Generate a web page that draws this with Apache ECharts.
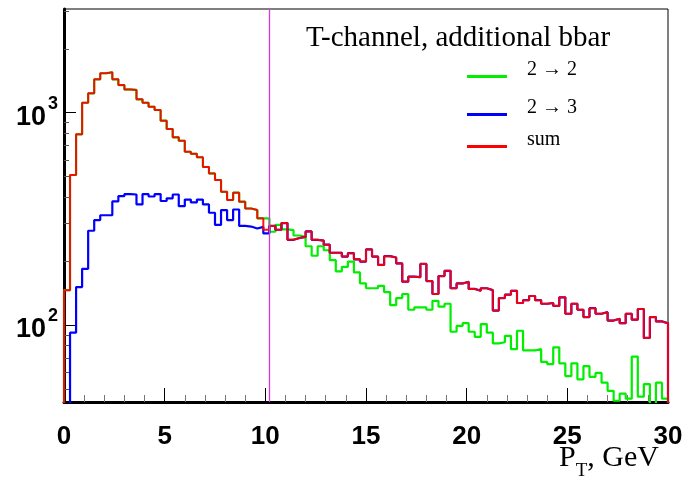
<!DOCTYPE html>
<html>
<head>
<meta charset="utf-8">
<script src="https://cdn.jsdelivr.net/npm/echarts@6/dist/echarts.min.js"></script>
<style>
  html, body { margin: 0; padding: 0; background: #fff; }
  #main { width: 686px; height: 487px; }
</style>
</head>
<body>
<div id="main"></div>
<script>
// pT spectrum, 100 bins of 0.3 GeV between 0 and 30
var ptMin = 0, ptMax = 30;
var cutPt = 10.2; // matching cut, drawn as the vertical line

// sum, every bin
var sumVals = [
  146, 509, 791, 1114, 1234, 1436, 1534, 1550, 1436, 1350,
  1288, 1280, 1157, 1114, 1067, 1030, 917, 838, 766, 738,
  655, 640, 617, 555, 518, 482, 424, 388, 420, 381,
  354, 348, 318, 281, 293, 281, 302, 252, 257, 260,
  276, 252, 250, 239, 219, 219, 210, 218, 204, 199,
  227, 210, 192, 211, 208, 195, 160, 169, 168, 194,
  161, 140, 170, 180, 149, 157, 160, 148, 145, 149,
  146, 117, 134, 139, 145, 127, 131, 137, 131, 126,
  127, 123, 135, 113, 126, 118, 109, 120, 113, 115,
  105, 107, 102, 113, 106, 119, 87, 109, 104, 102
];
// 2 -> 3, bins 0..33 (after the cut it lies under the sum)
var v23Low = [
  30, 92, 151, 184, 278, 312, 329, 329, 382, 405,
  414, 412, 370, 414, 403, 414, 384, 395, 412, 363,
  390, 378, 390, 370, 338, 296, 348, 312, 350, 293,
  291, 285, 290, 270
];
// 2 -> 2, bins 33..99 (before the cut it lies under the sum)
var v22High = [
  318, 275, 296, 282, 280, 264, 260, 235, 212, 235,
  225, 202, 179, 188, 199, 177, 157, 149, 149, 153,
  143, 124, 134, 140, 118, 121, 121, 118, 130, 122,
  126, 93, 99, 102, 93, 88, 101, 92, 82, 83,
  89, 77, 94, 76, 76, 77, 67, 65.5, 78.5, 66,
  57.5, 66, 55.5, 64, 57, 59.5, 53.5, 49, 44, 47.5,
  45, 71, 46, 52.7, 35, 53.5, 45
];

var xTickStep = 5;
var yLabelTicks = [100, 1000];
var yMinorTicks = [50, 60, 70, 80, 90, 200, 300, 400, 500, 600, 700, 800, 900, 2000, 3000];
var yMin = 43.4, yMax = 3080;

var v22 = sumVals.slice(0, 33).concat(v22High);
var v23 = v23Low.concat(sumVals.slice(34));

// histogram outline: left edge of each bin, closed down to the floor at both ends
function histPoints(vals) {
  var w = (ptMax - ptMin) / vals.length;
  var pts = [[ptMin, 1]];
  vals.forEach(function (v, i) { pts.push([ptMin + i * w, v]); });
  pts.push([ptMax, vals[vals.length - 1]]);
  pts.push([ptMax, 1]);
  return pts;
}

var serifFont = "'Liberation Serif', 'Times New Roman', serif";
var sansFont = "'Liberation Sans', Arial, sans-serif";

function legendAt(name, top) {
  return {
    data: [name],
    left: 462,
    top: top,
    orient: 'vertical',
    icon: 'rect',
    itemWidth: 40,
    itemHeight: 3,
    formatter: '{a|{name}}',
    textStyle: {
      rich: {
        a: { fontFamily: serifFont, fontSize: 20, color: '#000', padding: [0, 0, 13, 15] }
      }
    }
  };
}

var myChart = echarts.init(document.getElementById('main'));

option = {
  animation: false,
  backgroundColor: '#fff',
  title: [{
    text: 'T-channel, additional bbar',
    left: 301,
    top: 19,
    textStyle: { fontFamily: serifFont, fontSize: 29, fontWeight: 'normal', color: '#000' }
  }, {
    // x axis title
    text: '{p|P}{t|T}{g|, GeV}',
    right: 22,
    top: 438,
    textStyle: {
      fontWeight: 'normal',
      rich: {
        p: { fontFamily: serifFont, fontSize: 30, fontWeight: 'normal', color: '#000', verticalAlign: 'top' },
        t: { fontFamily: serifFont, fontSize: 19, fontWeight: 'normal', color: '#000', verticalAlign: 'top', padding: [19, 0, 0, 0] },
        g: { fontFamily: serifFont, fontSize: 30, fontWeight: 'normal', color: '#000', verticalAlign: 'top' }
      }
    }
  }],
  legend: [
    legendAt('2 → 2', 55),
    legendAt('2 → 3', 93),
    legendAt('sum', 125)
  ],
  grid: {
    left: 64, right: 18, top: 9, bottom: 85,
    show: true, borderColor: '#000', borderWidth: 1,
    outerBoundsMode: 'none'
  },
  xAxis: {
    type: 'value',
    min: ptMin,
    max: ptMax,
    interval: xTickStep,
    axisLine: { lineStyle: { color: '#000', width: 3 } },
    axisTick: { inside: true, length: 14, lineStyle: { color: '#000', width: 1 } },
    minorTick: { show: true, splitNumber: 5, length: 7, lineStyle: { color: '#777' } },
    splitLine: { show: false },
    axisLabel: { margin: 22, fontFamily: sansFont, fontSize: 26, fontWeight: 'bold', color: '#000' }
  },
  yAxis: [{
    type: 'log',
    logBase: 10,
    min: yMin,
    max: yMax,
    axisLine: { show: true, lineStyle: { color: '#000', width: 3 } },
    axisTick: { inside: true, length: 12, customValues: yLabelTicks, lineStyle: { color: '#000' } },
    splitLine: { show: false },
    axisLabel: {
      customValues: yLabelTicks,
      margin: 6,
      formatter: function (v) {
        return '{b|10}{s|' + Math.round(Math.log10(v)) + '}';
      },
      rich: {
        b: { fontFamily: sansFont, fontSize: 27, fontWeight: 'bold', color: '#000', verticalAlign: 'bottom' },
        s: { fontFamily: sansFont, fontSize: 18, fontWeight: 'bold', color: '#000', verticalAlign: 'bottom', padding: [0, 0, 18, 2] }
      }
    }
  }, {
    type: 'log',
    logBase: 10,
    min: yMin,
    max: yMax,
    position: 'left',
    axisLine: { show: false },
    axisTick: { inside: true, length: 5, customValues: yMinorTicks, lineStyle: { color: '#555' } },
    axisLabel: { show: false },
    splitLine: { show: false }
  }],
  series: [
    {
      name: '2 → 2',
      type: 'line',
      step: 'end',
      showSymbol: false,
      color: '#00ee00',
      lineStyle: { width: 2.2 },
      data: histPoints(v22)
    },
    {
      name: '2 → 3',
      type: 'line',
      step: 'end',
      showSymbol: false,
      color: '#0000ff',
      lineStyle: { width: 2.2 },
      data: histPoints(v23)
    },
    {
      name: 'sum',
      type: 'line',
      step: 'end',
      showSymbol: false,
      color: '#ff0000',
      lineStyle: { width: 2, opacity: 0.92 },
      data: histPoints(sumVals),
      markLine: {
        silent: true,
        symbol: 'none',
        label: { show: false },
        itemStyle: { color: '#d838d8' },
        lineStyle: { color: '#d838d8', width: 1.3, type: 'solid', opacity: 1 },
        emphasis: { disabled: true },
        data: [{ xAxis: cutPt }]
      }
    }
  ]
};

myChart.setOption(option);
</script>
</body>
</html>
